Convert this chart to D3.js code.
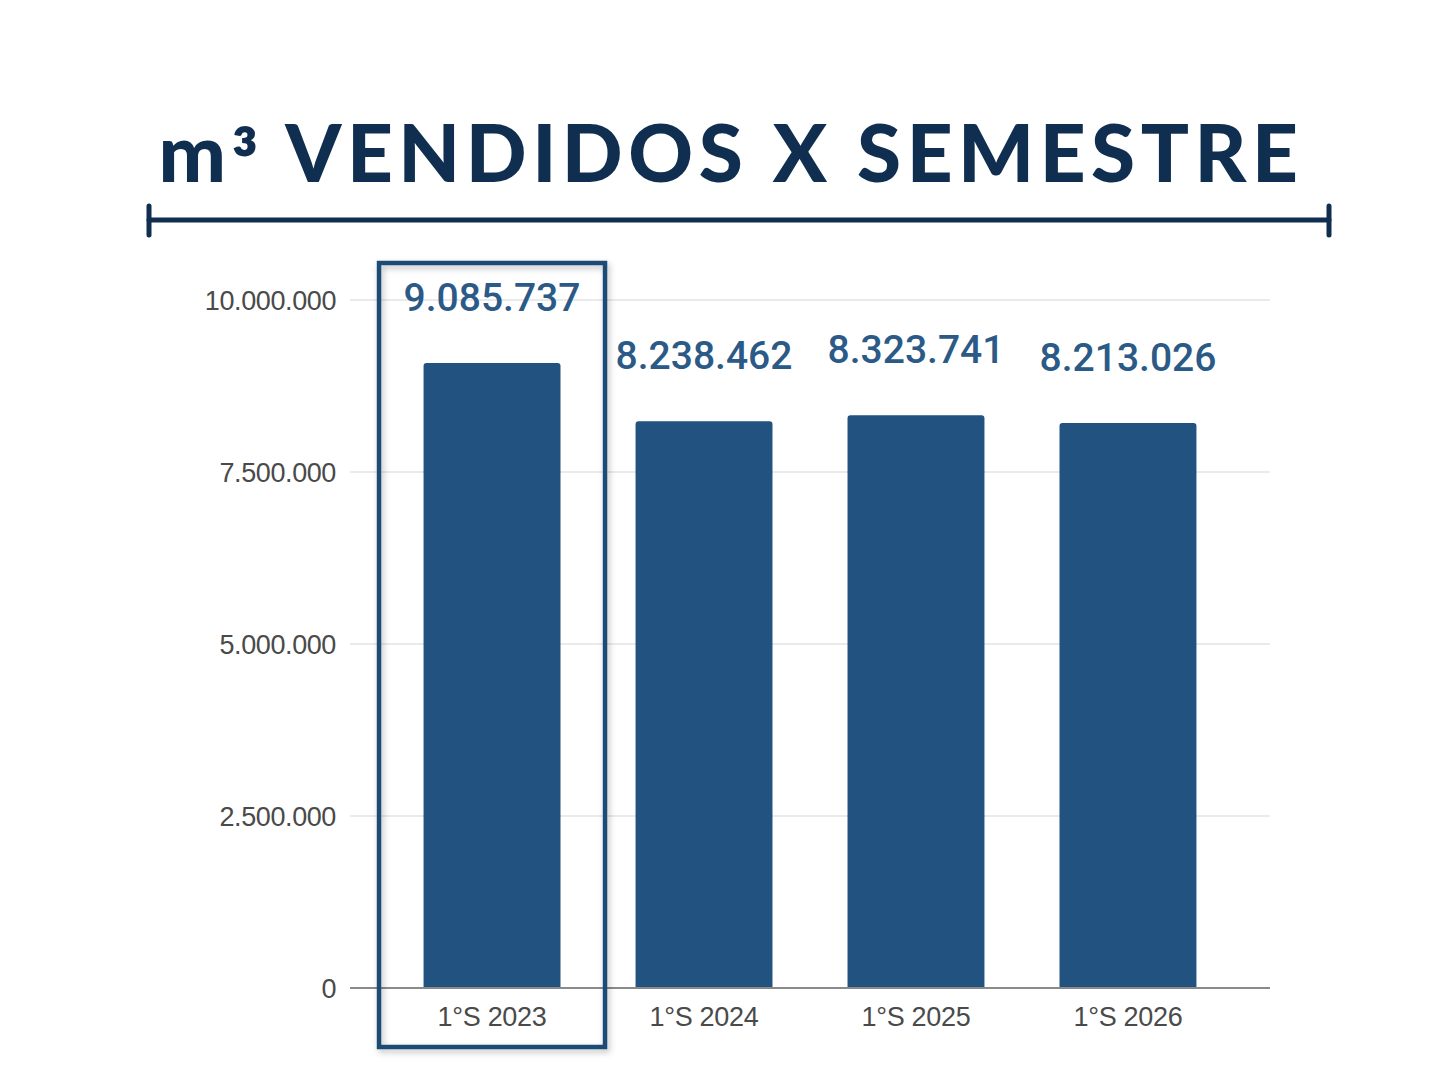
<!DOCTYPE html>
<html>
<head>
<meta charset="utf-8">
<script src="https://cdn.jsdelivr.net/npm/d3@7"></script>
<style>
  body { margin: 0; background: #fff; }
  svg { display: block; }
</style>
</head>
<body>
<div id="chart"></div>
<script>
// data
var semesters = ["1°S 2023", "1°S 2024", "1°S 2025", "1°S 2026"];
var volumes = [9085737, 8238462, 8323741, 8213026];
var yTicks = [0, 2500000, 5000000, 7500000, 10000000];
var highlighted = "1°S 2023";

let width = 1440;
let height = 1075;
var barColor = "#22527f";
var labelColor = "#2c5a87";
var titleColor = "#0f2e50";

var fmt = function (v) {
    return String(v).replace(/\B(?=(\d{3})+(?!\d))/g, ".");
};

var svg = d3.select("#chart").append("svg")
    .attr("width", width)
    .attr("height", height);

var defs = svg.append("defs");
var shadow = defs.append("filter").attr("id", "shadow")
    .attr("x", "-10%").attr("y", "-10%").attr("width", "120%").attr("height", "120%");
shadow.append("feDropShadow")
    .attr("dx", 2).attr("dy", 3).attr("stdDeviation", 3)
    .attr("flood-color", "#000").attr("flood-opacity", 0.25);

// title + underline bracket
var title = svg.append("text")
    .attr("x", 731)
    .attr("y", 182)
    .attr("text-anchor", "middle")
    .style("font-family", "Lato, 'Open Sans', sans-serif")
    .style("font-weight", 900)
    .style("font-size", "80px")
    .style("letter-spacing", "5.5px")
    .attr("fill", titleColor);
title.append("tspan").text("m");
title.append("tspan").attr("dy", 10).text("³");
title.append("tspan").attr("dy", -10).text(" VENDIDOS X SEMESTRE");

var bracket = svg.append("g")
    .attr("stroke", titleColor)
    .attr("stroke-width", 5)
    .attr("stroke-linecap", "round");
bracket.append("line").attr("x1", 149).attr("x2", 1329).attr("y1", 220).attr("y2", 220);
bracket.append("line").attr("x1", 149).attr("x2", 149).attr("y1", 206).attr("y2", 235);
bracket.append("line").attr("x1", 1329).attr("x2", 1329).attr("y1", 206).attr("y2", 235);

// scales
var x = d3.scaleBand()
    .domain(semesters)
    .range([350, 1270])
    .paddingInner(0.354)
    .paddingOuter(0.347);

var y = d3.scaleLinear()
    .domain([0, 10000000])
    .range([988, 300]);

// gridlines
svg.append("g")
    .selectAll("line")
    .data(yTicks.filter(function (d) { return d > 0; }))
    .enter().append("line")
    .attr("x1", 350).attr("x2", 1270)
    .attr("y1", function (d) { return y(d); })
    .attr("y2", function (d) { return y(d); })
    .attr("stroke", "#d6d6d6")
    .attr("stroke-width", 1.2);

// y axis labels
var yAxis = d3.axisLeft(y)
    .tickValues(yTicks)
    .tickSize(0)
    .tickPadding(0)
    .tickFormat(fmt);

var yg = svg.append("g")
    .attr("transform", "translate(336,0)")
    .call(yAxis);
yg.select(".domain").remove();
yg.selectAll("text")
    .style("font-family", "'Liberation Sans', Arial, sans-serif")
    .style("font-size", "27px")
    .style("letter-spacing", "-0.4px")
    .attr("fill", "#4a4a4a")
    .attr("dy", "0.35em");

// bars with rounded tops
svg.append("g")
    .selectAll("path")
    .data(volumes)
    .enter().append("path")
    .attr("fill", barColor)
    .attr("d", function (d, i) {
        var x0 = x(semesters[i]), w = x.bandwidth(), y0 = y(d), y1 = y(0), r = 3;
        return "M" + x0 + "," + y1 +
            "V" + (y0 + r) +
            "Q" + x0 + "," + y0 + " " + (x0 + r) + "," + y0 +
            "H" + (x0 + w - r) +
            "Q" + (x0 + w) + "," + y0 + " " + (x0 + w) + "," + (y0 + r) +
            "V" + y1 + "Z";
    });

// baseline
svg.append("line")
    .attr("x1", 350).attr("x2", 1270)
    .attr("y1", y(0)).attr("y2", y(0))
    .attr("stroke", "#8a8a8a")
    .attr("stroke-width", 2);

// value labels
svg.append("g")
    .selectAll("text")
    .data(volumes)
    .enter().append("text")
    .attr("x", function (d, i) { return x(semesters[i]) + x.bandwidth() / 2; })
    .attr("y", function (d) { return y(d) - 52; })
    .attr("text-anchor", "middle")
    .style("font-family", "Roboto, sans-serif")
    .style("font-weight", 500)
    .style("font-size", "39px")
    .attr("fill", labelColor)
    .text(function (d) { return fmt(d); });

// x labels
svg.append("g")
    .selectAll("text")
    .data(semesters)
    .enter().append("text")
    .attr("x", function (d) { return x(d) + x.bandwidth() / 2; })
    .attr("y", 1026)
    .attr("text-anchor", "middle")
    .style("font-family", "'Liberation Sans', Arial, sans-serif")
    .style("font-size", "27px")
    .style("letter-spacing", "-0.3px")
    .attr("fill", "#4a4a4a")
    .text(function (d) { return d; });

// highlight box around the first semester
var hx = x(highlighted) + x.bandwidth() / 2;
svg.append("rect")
    .attr("x", hx - 113)
    .attr("y", 263)
    .attr("width", 226)
    .attr("height", 784)
    .attr("fill", "none")
    .attr("stroke", "#1f4c76")
    .attr("stroke-width", 4.5)
    .attr("filter", "url(#shadow)");
</script>
</body>
</html>
